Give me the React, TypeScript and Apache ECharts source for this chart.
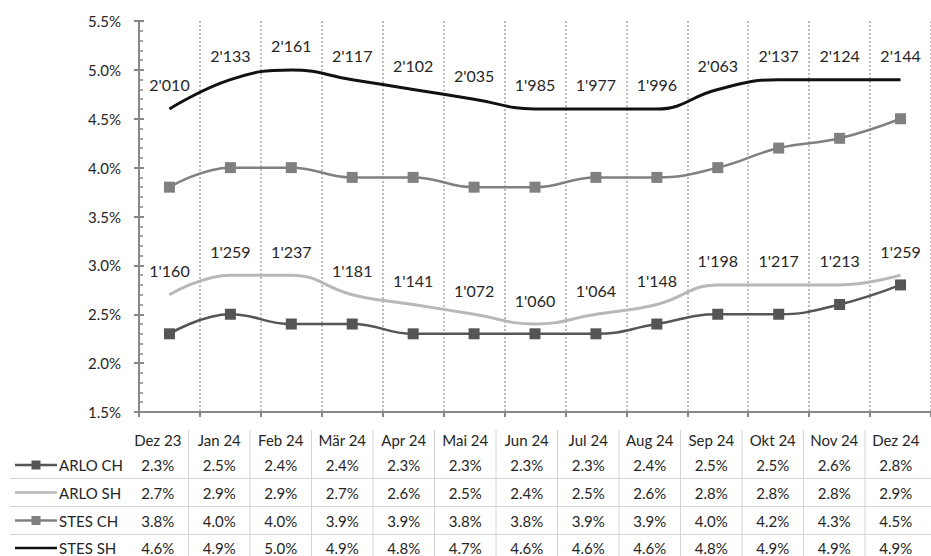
import React, { useEffect, useRef } from "react";
import * as echarts from "echarts";

const categories = ["Dez 23", "Jan 24", "Feb 24", "Mär 24", "Apr 24", "Mai 24", "Jun 24", "Jul 24", "Aug 24", "Sep 24", "Okt 24", "Nov 24", "Dez 24"];
const arloCH = [2.3, 2.5, 2.4, 2.4, 2.3, 2.3, 2.3, 2.3, 2.4, 2.5, 2.5, 2.6, 2.8];
const arloSH = [2.7, 2.9, 2.9, 2.7, 2.6, 2.5, 2.4, 2.5, 2.6, 2.8, 2.8, 2.8, 2.9];
const stesCH = [3.8, 4.0, 4.0, 3.9, 3.9, 3.8, 3.8, 3.9, 3.9, 4.0, 4.2, 4.3, 4.5];
const stesSH = [4.6, 4.9, 5.0, 4.9, 4.8, 4.7, 4.6, 4.6, 4.6, 4.8, 4.9, 4.9, 4.9];
const arloSHCounts = [1160, 1259, 1237, 1181, 1141, 1072, 1060, 1064, 1148, 1198, 1217, 1213, 1259];
const stesSHCounts = [2010, 2133, 2161, 2117, 2102, 2035, 1985, 1977, 1996, 2063, 2137, 2124, 2144];
const yTicks = { min: 1.5, max: 5.5, interval: 0.5 };

const FONT = "Lato, 'Open Sans', sans-serif";
const TXT = "#262626";
const AXIS = "#878787";

const fmtCount = (n: number) => `${Math.floor(n / 1000)}'${String(n % 1000).padStart(3, "0")}`;

const seriesDefs = [
  { name: "ARLO CH", data: arloCH, color: "#555555", marker: true, counts: null as number[] | null },
  { name: "ARLO SH", data: arloSH, color: "#b8b8b8", marker: false, counts: arloSHCounts },
  { name: "STES CH", data: stesCH, color: "#808080", marker: true, counts: null as number[] | null },
  { name: "STES SH", data: stesSH, color: "#111111", marker: false, counts: stesSHCounts },
];

export default function App() {
  const ref = useRef<HTMLDivElement>(null);
  useEffect(() => {
    if (!ref.current) return;
    const chart = echarts.init(ref.current, undefined, { renderer: "svg" });

    const COL0 = 127;
    const COLW = 61.5;
    const headerY = 440;
    const rowYs = [465, 492.5, 520.5, 548];
    const graphics: any[] = [];
    categories.forEach((c, i) => {
      graphics.push({
        type: "text",
        x: COL0 + COLW * (i + 0.5),
        y: headerY,
        style: { text: c, align: "center", verticalAlign: "middle", fontSize: 15, fontFamily: FONT, fill: TXT },
      });
    });
    for (let k = 1; k <= 12; k++) {
      graphics.push({
        type: "line",
        shape: { x1: COL0 + COLW * k, y1: 430, x2: COL0 + COLW * k, y2: 556 },
        style: { stroke: "#d4d4d4", lineWidth: 1 },
      });
    }
    [478.5, 506.5, 534.5].forEach((y) => {
      graphics.push({
        type: "line",
        shape: { x1: 10, y1: y, x2: 931, y2: y },
        style: { stroke: "#d4d4d4", lineWidth: 1 },
      });
    });
    seriesDefs.forEach((s, r) => {
      const y = rowYs[r];
      graphics.push({
        type: "line",
        shape: { x1: 15, y1: y, x2: 57, y2: y },
        style: { stroke: s.color, lineWidth: 2.5 },
      });
      if (s.marker) {
        graphics.push({
          type: "rect",
          shape: { x: 31.5, y: y - 4.5, width: 9, height: 9 },
          style: { fill: s.color },
        });
      }
      graphics.push({
        type: "text",
        x: 59,
        y,
        style: { text: s.name, align: "left", verticalAlign: "middle", fontSize: 15, fontFamily: FONT, fill: TXT },
      });
      s.data.forEach((v, i) => {
        graphics.push({
          type: "text",
          x: COL0 + COLW * (i + 0.5),
          y,
          style: { text: v.toFixed(1) + "%", align: "center", verticalAlign: "middle", fontSize: 15, fontFamily: FONT, fill: TXT },
        });
      });
    });

    chart.setOption({
      animation: false,
      backgroundColor: "#ffffff",
      grid: { left: 139, right: 0, top: 21, bottom: 144, containLabel: false },
      xAxis: {
        type: "category",
        data: categories,
        boundaryGap: true,
        axisLine: { show: true, lineStyle: { color: AXIS, width: 2 } },
        axisTick: { show: true, inside: false, length: 5, lineStyle: { color: AXIS, width: 2 } },
        axisLabel: { show: false },
        splitLine: { show: true, lineStyle: { color: "#a8a8a8", width: 1.5, type: [2, 2] } },
      },
      yAxis: [
        {
          type: "value",
          min: yTicks.min,
          max: yTicks.max,
          interval: yTicks.interval,
          axisLine: { show: true, lineStyle: { color: AXIS, width: 2 } },
          axisTick: { show: true, inside: true, length: 5, lineStyle: { color: AXIS, width: 2 } },
          minorTick: { show: true, splitNumber: 5, length: 4, lineStyle: { color: AXIS, width: 1.5 } },
          axisLabel: { show: true, margin: 18, fontSize: 15, fontFamily: FONT, color: TXT, formatter: (v: number) => v.toFixed(1) + "%" },
          splitLine: { show: false },
        },
        {
          type: "value",
          position: "left",
          min: yTicks.min,
          max: yTicks.max,
          interval: yTicks.interval,
          axisLine: { show: false },
          axisTick: { show: true, inside: false, length: 5, lineStyle: { color: AXIS, width: 2 } },
          axisLabel: { show: false },
          splitLine: { show: false },
        },
      ],
      series: seriesDefs.map((s) => ({
        name: s.name,
        type: "line",
        yAxisIndex: 0,
        data: s.data,
        smooth: 0.45,
        showSymbol: true,
        symbol: s.marker ? "rect" : "circle",
        symbolSize: s.marker ? 11 : 0,
        itemStyle: { color: s.color },
        lineStyle: { color: s.color, width: s.marker ? 2.5 : 3 },
        label: s.counts
          ? {
              show: true,
              position: "top",
              distance: 16,
              fontSize: 16,
              fontFamily: FONT,
              color: TXT,
              formatter: (p: any) => fmtCount((s.counts as number[])[p.dataIndex]),
            }
          : { show: false },
      })),
      graphic: graphics,
    });
    return () => chart.dispose();
  }, []);
  return <div ref={ref} style={{ position: "fixed", left: 0, top: 0, width: 931, height: 556, background: "#fff" }} />;
}
